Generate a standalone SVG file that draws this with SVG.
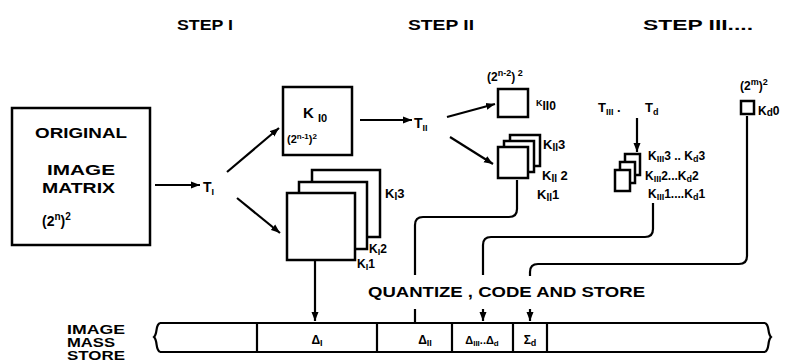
<svg xmlns="http://www.w3.org/2000/svg" width="791" height="362" viewBox="0 0 791 362">
<style>
.t{font-family:"Liberation Sans",Arial,sans-serif;font-weight:bold;fill:#000}
.box{fill:#fff;stroke:#000;stroke-width:2.5}
.ln{fill:none;stroke:#000;stroke-width:2.2}
</style>
<defs>
<marker id="ah" markerUnits="userSpaceOnUse" markerWidth="10" markerHeight="8" refX="9" refY="4" orient="auto">
<path d="M0,0.5 L9,4 L0,7.5 z" fill="#000"/>
</marker>
</defs>
<rect width="791" height="362" fill="#fff"/>

<g id="step-labels">
<text class="t" x="177" y="30" font-size="14" textLength="56" lengthAdjust="spacingAndGlyphs">STEP I</text>
<text class="t" x="408" y="30" font-size="14" textLength="66" lengthAdjust="spacingAndGlyphs">STEP II</text>
<text class="t" x="643" y="30" font-size="14" textLength="110" lengthAdjust="spacingAndGlyphs">STEP III....</text>
</g>

<g id="original">
<rect class="box" x="12" y="108" width="138" height="137"/>
<text class="t" x="35" y="138" font-size="15" textLength="92" lengthAdjust="spacingAndGlyphs">ORIGINAL</text>
<text class="t" x="47" y="175" font-size="15" textLength="68" lengthAdjust="spacingAndGlyphs">IMAGE</text>
<text class="t" x="42" y="193" font-size="15" textLength="73" lengthAdjust="spacingAndGlyphs">MATRIX</text>
<text class="t" x="42" y="226" font-size="14">(2<tspan font-size="10" dy="-6">n</tspan><tspan dy="6">)</tspan><tspan font-size="10" dy="-6">2</tspan></text>
</g>

<g id="T1"><text class="t" x="203" y="192" font-size="14">T<tspan font-size="9" dy="3">I</tspan></text></g>

<g id="K10">
<rect class="box" x="283" y="87" width="69" height="68"/>
<text class="t" x="303" y="118" font-size="15">K <tspan font-size="11" dy="4">I0</tspan></text>
<text class="t" x="287" y="143" font-size="11">(2<tspan font-size="8" dy="-4">n-1</tspan><tspan dy="4">)</tspan><tspan font-size="8" dy="-4">2</tspan></text>
</g>

<g id="KI-stack">
<rect class="box" x="312" y="170" width="68" height="67"/>
<rect class="box" x="299" y="182" width="68" height="67"/>
<rect class="box" x="287" y="193" width="68" height="67"/>
<text class="t" x="385" y="198" font-size="13">K<tspan font-size="10" dy="2">I</tspan><tspan dy="-2">3</tspan></text>
<text class="t" x="369" y="253" font-size="12">K<tspan font-size="9" dy="2">I</tspan><tspan dy="-2">2</tspan></text>
<text class="t" x="357" y="268" font-size="12">K<tspan font-size="9" dy="2">I</tspan><tspan dy="-2">1</tspan></text>
</g>

<g id="T2"><text class="t" x="414" y="128" font-size="14">T<tspan font-size="9" dy="3">II</tspan></text></g>

<g id="KII0">
<text class="t" x="487" y="81" font-size="12">(2<tspan font-size="9" dy="-5">n-2</tspan><tspan dy="5">)</tspan><tspan font-size="9" dy="-5"> 2</tspan></text>
<rect class="box" x="498" y="89" width="30" height="28"/>
<text class="t" x="536" y="110" font-size="12"><tspan font-size="9" dy="-4">K</tspan><tspan dy="4">II0</tspan></text>
</g>

<g id="KII-stack">
<rect class="box" x="510" y="135" width="30" height="31"/>
<rect class="box" x="504" y="141" width="30" height="31"/>
<rect class="box" x="498" y="147" width="30" height="31"/>
<text class="t" x="543" y="149" font-size="13">K<tspan font-size="10" dy="2">II</tspan><tspan dy="-2">3</tspan></text>
<text class="t" x="542" y="180" font-size="13">K<tspan font-size="10" dy="2">II</tspan><tspan dy="-2"> 2</tspan></text>
<text class="t" x="537" y="199" font-size="13">K<tspan font-size="10" dy="2">II</tspan><tspan dy="-2">1</tspan></text>
</g>

<g id="T3">
<text class="t" x="598" y="112" font-size="13">T<tspan font-size="9" dy="3">III</tspan><tspan dy="-3"> .</tspan></text>
<text class="t" x="645" y="112" font-size="13">T<tspan font-size="9" dy="3">d</tspan></text>
</g>

<g id="KIII-stack">
<rect class="box" x="625" y="154" width="15" height="21"/>
<rect class="box" x="620" y="162" width="15" height="21"/>
<rect class="box" x="615" y="170" width="15" height="21"/>
<text class="t" x="648" y="160" font-size="12">K<tspan font-size="9" dy="2">III</tspan><tspan dy="-2">3 .. K</tspan><tspan font-size="9" dy="2">d</tspan><tspan dy="-2">3</tspan></text>
<text class="t" x="645" y="180" font-size="12">K<tspan font-size="9" dy="2">III</tspan><tspan dy="-2">2...K</tspan><tspan font-size="9" dy="2">d</tspan><tspan dy="-2">2</tspan></text>
<text class="t" x="648" y="198" font-size="12">K<tspan font-size="9" dy="2">III</tspan><tspan dy="-2">1....K</tspan><tspan font-size="9" dy="2">d</tspan><tspan dy="-2">1</tspan></text>
</g>

<g id="Kd0">
<text class="t" x="740" y="90" font-size="12">(2<tspan font-size="9" dy="-5">m</tspan><tspan dy="5">)</tspan><tspan font-size="9" dy="-5">2</tspan></text>
<rect class="box" x="741" y="101" width="13" height="13"/>
<text class="t" x="758" y="115" font-size="12">K<tspan font-size="10" dy="1">d</tspan><tspan dy="-1">0</tspan></text>
</g>

<g id="qcs">
<text class="t" x="368" y="297" font-size="14" textLength="277" lengthAdjust="spacingAndGlyphs">QUANTIZE , CODE AND STORE</text>
</g>

<g id="store-label">
<text class="t" x="67" y="334" font-size="12" textLength="58" lengthAdjust="spacingAndGlyphs">IMAGE</text>
<text class="t" x="67" y="347" font-size="12" textLength="48" lengthAdjust="spacingAndGlyphs">MASS</text>
<text class="t" x="67" y="360" font-size="12" textLength="58" lengthAdjust="spacingAndGlyphs">STORE</text>
</g>

<g id="store">
<path class="ln" stroke-width="2.5" d="M160,323 H765 M160,352 H765"/>
<path class="ln" stroke-width="2.5" d="M160,323 C155,325 158,333 154,337 C158,341 155,349 160,352"/>
<path class="ln" stroke-width="2.5" d="M765,323 C770,325 767,333 771,337 C767,341 770,349 765,352"/>
<path class="ln" d="M257,323 V352 M377,323 V352 M452,323 V352 M513,323 V352 M547,323 V352"/>
<text class="t" x="317" y="344" font-size="12" text-anchor="middle">Δ<tspan font-size="9" dy="2">I</tspan></text>
<text class="t" x="425" y="344" font-size="12" text-anchor="middle">Δ<tspan font-size="9" dy="2">II</tspan></text>
<text class="t" x="482" y="344" font-size="11" text-anchor="middle">Δ<tspan font-size="8" dy="2">III</tspan><tspan dy="-2">..Δ</tspan><tspan font-size="8" dy="2">d</tspan></text>
<text class="t" x="530" y="344" font-size="12" text-anchor="middle">Σ<tspan font-size="9" dy="2">d</tspan></text>
</g>

<g id="connectors">
<path class="ln" d="M155,185 H200" marker-end="url(#ah)"/>
<path class="ln" d="M227,172 L279,128" marker-end="url(#ah)"/>
<path class="ln" d="M237,198 L280,233" marker-end="url(#ah)"/>
<path class="ln" d="M360,120 H412" marker-end="url(#ah)"/>
<path class="ln" d="M447,117 L495,104" marker-end="url(#ah)"/>
<path class="ln" d="M450,137 L493,164" marker-end="url(#ah)"/>
<path class="ln" d="M637,118 V152" marker-end="url(#ah)"/>
<path class="ln" d="M315,261 V321" marker-end="url(#ah)"/>
<path class="ln" d="M517,180 V209 Q517,217 509,217 H423 Q415,217 415,225 V275 M415,309 V323"/>
<path class="ln" d="M653,203 V229 Q653,237 645,237 H491 Q483,237 483,245 V275"/>
<path class="ln" d="M483,309 V321" marker-end="url(#ah)"/>
<path class="ln" d="M747,116 V256 Q747,264 739,264 H538 Q530,264 530,272 V276"/>
<path class="ln" d="M530,309 V321" marker-end="url(#ah)"/>
</g>
</svg>
